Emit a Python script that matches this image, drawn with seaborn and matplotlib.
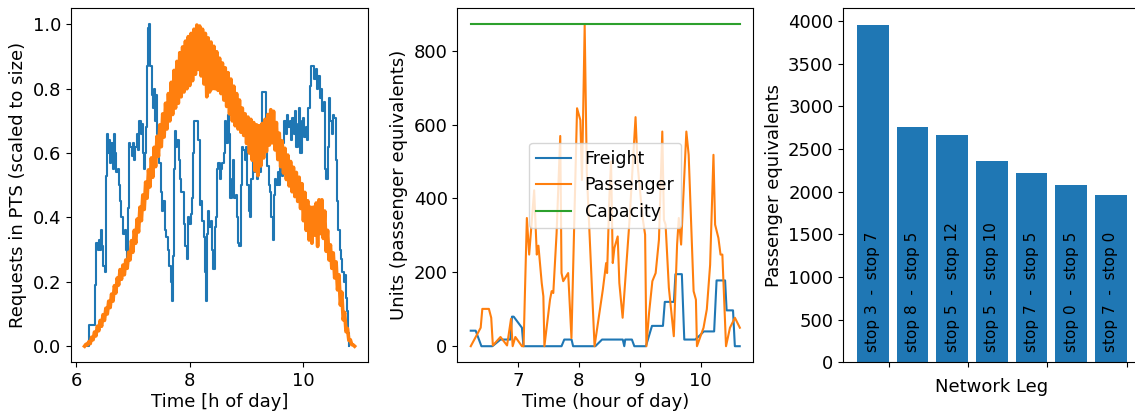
"""
Three-panel summary of a mixed freight/passenger transit simulation.

Saves out.png (1135x411).
"""

import matplotlib

matplotlib.use("Agg")

import matplotlib.pyplot as plt
import numpy as np
import seaborn as sns
from matplotlib.ticker import MultipleLocator

plt.rcParams["font.size"] = 13
plt.rcParams["legend.fontsize"] = 12.5

# --- left panel: requests in the system, scaled to size -----------------------
# freight requests (step series): time [h], scaled value
freight_req_t = [
    6.205, 6.223, 6.334, 6.358, 6.387, 6.411, 6.428, 6.446, 6.463, 6.481,
    6.504, 6.528, 6.545, 6.569, 6.587, 6.604, 6.622, 6.645, 6.669, 6.692,
    6.710, 6.733, 6.751, 6.774, 6.798, 6.827, 6.862, 6.880, 6.891, 6.909,
    6.933, 6.956, 6.979, 6.997, 7.021, 7.044, 7.067, 7.091, 7.114, 7.138,
    7.155, 7.173, 7.190, 7.208, 7.232, 7.255, 7.273, 7.290, 7.308, 7.331,
    7.349, 7.367, 7.384, 7.402, 7.419, 7.443, 7.466, 7.490, 7.513, 7.537,
    7.560, 7.584, 7.613, 7.642, 7.666, 7.689, 7.707, 7.718, 7.736, 7.760,
    7.783, 7.806, 7.830, 7.853, 7.877, 7.900, 7.924, 7.947, 7.971, 7.994,
    8.018, 8.041, 8.065, 8.082, 8.152, 8.176, 8.199, 8.223, 8.246, 8.270,
    8.287, 8.305, 8.323, 8.346, 8.370, 8.393, 8.416, 8.440, 8.463, 8.487,
    8.504, 8.528, 8.551, 8.575, 8.598, 8.622, 8.645, 8.669, 8.692, 8.716,
    8.739, 8.762, 8.786, 8.809, 8.833, 8.856, 8.874, 8.897, 8.921, 8.944,
    8.968, 8.991, 9.015, 9.038, 9.062, 9.085, 9.109, 9.132, 9.155, 9.179,
    9.202, 9.226, 9.249, 9.273, 9.343, 9.367, 9.390, 9.413, 9.437, 9.460,
    9.478, 9.501, 9.525, 9.548, 9.572, 9.595, 9.619, 9.642, 9.665, 9.689,
    9.713, 9.736, 9.760, 9.783, 9.806, 9.830, 9.853, 9.877, 9.900, 9.924,
    9.947, 9.971, 9.994, 10.018, 10.041, 10.065, 10.088, 10.112, 10.135, 10.194,
    10.217, 10.241, 10.264, 10.288, 10.311, 10.334, 10.358, 10.381, 10.405, 10.428,
    10.452, 10.475, 10.498, 10.522, 10.545, 10.569, 10.592, 10.616, 10.639, 10.663,
    10.686, 10.710, 10.733, 10.751, 10.768, 10.786, 10.809,
]
freight_req = [
    0.00, 0.067, 0.19, 0.32, 0.30, 0.33, 0.30, 0.36, 0.31, 0.25,
    0.23, 0.53, 0.66, 0.60, 0.64, 0.57, 0.63, 0.55, 0.66, 0.60,
    0.54, 0.55, 0.50, 0.45, 0.40, 0.35, 0.36, 0.30, 0.26, 0.43,
    0.63, 0.62, 0.59, 0.63, 0.58, 0.62, 0.66, 0.61, 0.70, 0.66,
    0.69, 0.60, 0.55, 0.60, 0.68, 0.87, 0.99, 1.00, 0.87, 0.78,
    0.74, 0.80, 0.70, 0.78, 0.66, 0.60, 0.57, 0.48, 0.42, 0.45,
    0.36, 0.34, 0.30, 0.25, 0.20, 0.14, 0.28, 0.55, 0.67, 0.62,
    0.64, 0.58, 0.52, 0.48, 0.48, 0.38, 0.31, 0.27, 0.40, 0.38,
    0.41, 0.46, 0.60, 0.70, 0.64, 0.44, 0.45, 0.39, 0.34, 0.23,
    0.14, 0.35, 0.42, 0.37, 0.39, 0.30, 0.24, 0.37, 0.40, 0.55,
    0.57, 0.52, 0.55, 0.57, 0.60, 0.70, 0.63, 0.72, 0.66, 0.46,
    0.52, 0.58, 0.46, 0.47, 0.40, 0.32, 0.31, 0.50, 0.62, 0.61,
    0.58, 0.62, 0.50, 0.42, 0.40, 0.52, 0.58, 0.54, 0.56, 0.52,
    0.57, 0.54, 0.69, 0.79, 0.62, 0.56, 0.50, 0.48, 0.40, 0.33,
    0.47, 0.52, 0.50, 0.54, 0.50, 0.58, 0.53, 0.63, 0.70, 0.66,
    0.72, 0.68, 0.70, 0.64, 0.71, 0.66, 0.73, 0.62, 0.69, 0.74,
    0.60, 0.70, 0.71, 0.65, 0.68, 0.64, 0.74, 0.81, 0.87, 0.83,
    0.86, 0.80, 0.84, 0.77, 0.80, 0.73, 0.76, 0.55, 0.52, 0.62,
    0.77, 0.70, 0.66, 0.72, 0.71, 0.58, 0.45, 0.36, 0.30, 0.27,
    0.23, 0.20, 0.22, 0.15, 0.11, 0.04, 0.00,
]

# passenger requests, logged every 1.5 minutes (noisy)
pax_req_start, pax_req_step = 6.15, 0.025
pax_req = [
    0.000, 0.006, 0.004, 0.014, 0.008, 0.028, 0.020, 0.044, 0.032, 0.062,
    0.048, 0.080, 0.062, 0.098, 0.080, 0.118, 0.100, 0.140, 0.120, 0.162,
    0.140, 0.188, 0.165, 0.212, 0.190, 0.238, 0.208, 0.252, 0.222, 0.268,
    0.242, 0.292, 0.268, 0.328, 0.292, 0.360, 0.320, 0.395, 0.355, 0.432,
    0.390, 0.470, 0.425, 0.510, 0.460, 0.548, 0.495, 0.585, 0.525, 0.618,
    0.558, 0.652, 0.590, 0.688, 0.620, 0.722, 0.650, 0.755, 0.675, 0.785,
    0.700, 0.820, 0.720, 0.857, 0.740, 0.885, 0.755, 0.912, 0.775, 0.930,
    0.790, 0.948, 0.800, 0.962, 0.810, 0.972, 0.825, 0.985, 0.845, 0.998,
    0.860, 0.995, 0.840, 0.985, 0.815, 0.972, 0.775, 0.958, 0.790, 0.945,
    0.800, 0.932, 0.800, 0.915, 0.795, 0.895, 0.785, 0.880, 0.765, 0.865,
    0.745, 0.850, 0.722, 0.830, 0.700, 0.808, 0.685, 0.785, 0.675, 0.765,
    0.665, 0.740, 0.655, 0.722, 0.630, 0.712, 0.600, 0.705, 0.578, 0.695,
    0.545, 0.688, 0.530, 0.685, 0.560, 0.692, 0.585, 0.705, 0.605, 0.720,
    0.625, 0.735, 0.632, 0.730, 0.610, 0.695, 0.580, 0.662, 0.558, 0.638,
    0.538, 0.615, 0.518, 0.594, 0.498, 0.574, 0.480, 0.556, 0.465, 0.540,
    0.450, 0.525, 0.428, 0.505, 0.390, 0.478, 0.360, 0.452, 0.330, 0.432,
    0.320, 0.432, 0.345, 0.445, 0.310, 0.455, 0.350, 0.455, 0.335, 0.420,
    0.295, 0.360, 0.268, 0.315, 0.242, 0.290, 0.212, 0.262, 0.175, 0.222,
    0.128, 0.168, 0.082, 0.105, 0.045, 0.055, 0.018, 0.020, 0.005, 0.004,
    0.000,
]
pax_req_t = pax_req_start + pax_req_step * np.arange(len(pax_req))

# --- middle panel: load on the critical leg -----------------------------------
freight_load_t = [
    6.225, 6.306, 6.40, 6.58, 6.713, 6.875, 6.902, 6.93, 7.065, 7.09,
    7.715, 7.76, 7.88, 7.905, 8.27, 8.38, 8.72, 8.745, 8.76, 8.87,
    8.91, 9.10, 9.20, 9.38, 9.41, 9.56, 9.585, 9.69, 9.73, 9.91,
    9.99, 10.05, 10.22, 10.26, 10.40, 10.425, 10.53, 10.56, 10.64,
]
freight_load = [
    42, 42, 0, 0, 18, 18, 80, 80, 50, 0,
    0, 18, 18, 0, 0, 18, 18, 0, 18, 18,
    0, 0, 55, 55, 120, 120, 195, 195, 18, 18,
    30, 40, 40, 178, 178, 97, 97, 0, 0,
]
pax_load_t = [
    6.225, 6.388, 6.415, 6.523, 6.561, 6.588, 6.713, 6.821, 6.886, 6.913,
    6.957, 7.065, 7.092, 7.146, 7.184, 7.266, 7.309, 7.336, 7.390, 7.417,
    7.434, 7.526, 7.553, 7.580, 7.634, 7.694, 7.715, 7.743, 7.824, 7.878,
    7.970, 8.024, 8.051, 8.095, 8.130, 8.257, 8.393, 8.447, 8.463, 8.501,
    8.528, 8.556, 8.583, 8.637, 8.664, 8.718, 8.830, 8.930, 8.962, 9.043,
    9.087, 9.108, 9.152, 9.206, 9.260, 9.314, 9.369, 9.396, 9.423, 9.477,
    9.558, 9.612, 9.640, 9.678, 9.764, 9.802, 9.883, 9.921, 9.938, 10.046,
    10.100, 10.154, 10.209, 10.236, 10.290, 10.325, 10.355, 10.415, 10.480, 10.561,
    10.642,
]
pax_load = [
    0, 50, 101, 101, 77, 2, 25, 2, 74, 0,
    25, 0, 0, 347, 248, 422, 248, 272, 171, 135,
    0, 126, 149, 144, 306, 569, 198, 176, 198, 22,
    644, 612, 450, 869, 470, 0, 153, 225, 198, 405,
    500, 225, 266, 297, 171, 77, 338, 620, 495, 351,
    302, 0, 90, 176, 198, 288, 581, 342, 329, 158,
    27, 275, 347, 275, 581, 518, 149, 126, 0, 50,
    100, 220, 518, 329, 293, 248, 248, 0, 50, 77,
    50,
]
capacity = 871

# --- right panel: busiest network legs ----------------------------------------
legs = [
    "stop 3  -  stop 7",
    "stop 8  -  stop 5",
    "stop 5  -  stop 12",
    "stop 5  -  stop 10",
    "stop 7  -  stop 5",
    "stop 0  -  stop 5",
    "stop 7  -  stop 0",
]
leg_load = [3950, 2755, 2661, 2357, 2217, 2076, 1959]


fig = plt.figure(figsize=(11.35, 4.11), dpi=100)
ax1 = fig.add_axes([0.0626, 0.1185, 0.2617, 0.8613])
ax2 = fig.add_axes([0.4029, 0.1185, 0.2608, 0.8613])
ax3 = fig.add_axes([0.7430, 0.1185, 0.2617, 0.8613])

# left
sns.lineplot(x=freight_req_t, y=freight_req, ax=ax1, color="C0",
             estimator=None, sort=False, drawstyle="steps-post")
sns.lineplot(x=pax_req_t, y=pax_req, ax=ax1, color="C1",
             estimator=None, sort=False, linewidth=2.6)
ax1.set_xticks([6, 8, 10])
ax1.set_xlabel("Time [h of day]", labelpad=2)
ax1.set_ylabel("Requests in PTS (scaled to size)")

# middle
sns.lineplot(x=freight_load_t, y=freight_load, ax=ax2, color="C0",
             estimator=None, sort=False, label="Freight")
sns.lineplot(x=pax_load_t, y=pax_load, ax=ax2, color="C1",
             estimator=None, sort=False, label="Passenger")
sns.lineplot(x=[pax_load_t[0], pax_load_t[-1]], y=[capacity, capacity], ax=ax2,
             color="C2", estimator=None, sort=False, label="Capacity")
ax2.legend(loc="center")
ax2.set_xlabel("Time (hour of day)", labelpad=2)
ax2.set_ylabel("Units (passenger equivalents)")

# right
sns.barplot(x=legs, y=leg_load, ax=ax3, color="C0", saturation=1, width=0.8)
for p, name in zip(ax3.patches, legs):
    ax3.text(p.get_x() + p.get_width() / 2, 120, name, rotation=90,
             ha="center", va="bottom", fontsize=11)
edges = [p.get_x() + p.get_width() for p in ax3.patches[::2]]
ax3.set_xticks(edges, labels=[""] * len(edges))
ax3.set_xlim(-0.74, 6.74)
ax3.yaxis.set_major_locator(MultipleLocator(500))
ax3.set_xlabel("Network Leg")
ax3.set_ylabel("Passenger equivalents")

fig.savefig("out.png", dpi=100)
plt.close(fig)
